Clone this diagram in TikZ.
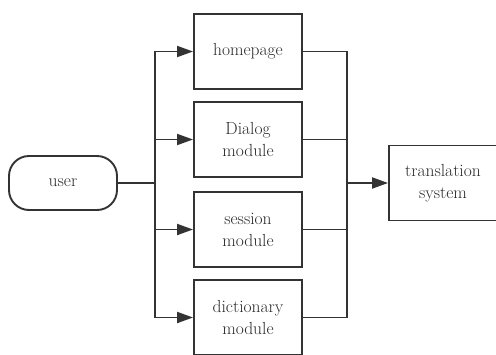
\documentclass[tikz,border=0pt]{standalone}
\usetikzlibrary{arrows.meta, positioning}
\definecolor{linea}{HTML}{333333}
\definecolor{testo}{HTML}{2A2A2A}

\begin{document}
\begin{tikzpicture}[x=1pt, y=-1pt, >={Triangle[length=16pt, width=11pt]},
			every node/.style={text=testo, font=\fontsize{17.5}{22}\selectfont, align=center},
			modulo/.style={rectangle, draw=linea, line width=1.9pt, minimum width=108pt, minimum height=75pt},
			utente/.style={rectangle, rounded corners=20pt, draw=linea, line width=1.9pt, minimum width=108pt, minimum height=54pt},
			freccia/.style={draw=linea, line width=1.9pt}]
			
			\useasboundingbox (0,0) rectangle (496,354);
			\fill[white] (0,0) rectangle (496,354);
			
			% Nodo di partenza
			\node[utente] (user) at (63,183) {user};
			
			% Moduli in colonna
			\node[modulo] (homepage) at (248,51.5) {homepage};
			\node[modulo] (dialog) at (248,139.5) {Dialog\\module};
			\node[modulo] (session) at (248,229.5) {session\\module};
			\node[modulo] (dictionary) at (248,317.5) {dictionary\\module};
			
			% Sistema finale
			\node[modulo] (translation) at (443,183) {translation\\system};
			
			% Punti di diramazione e raccolta
			\coordinate (split) at (155,183);
			\coordinate (merge) at (347,183);
			
			% --- Diramazione dall'utente ---
			\draw[freccia] (user.east) -- (split);
			\draw[freccia, ->] (split) |- (homepage.west);
			\draw[freccia, ->] (split) |- (dialog.west);
			\draw[freccia, ->] (split) |- (session.west);
			\draw[freccia, ->] (split) |- (dictionary.west);
			
			% --- Raccolta verso il sistema ---
			\draw[freccia] (homepage.east) -| (merge);
			\draw[freccia] (dialog.east) -| (merge);
			\draw[freccia] (session.east) -| (merge);
			\draw[freccia] (dictionary.east) -| (merge);
			\draw[freccia, ->] (merge) -- (translation.west);
		\end{tikzpicture}
\end{document}
